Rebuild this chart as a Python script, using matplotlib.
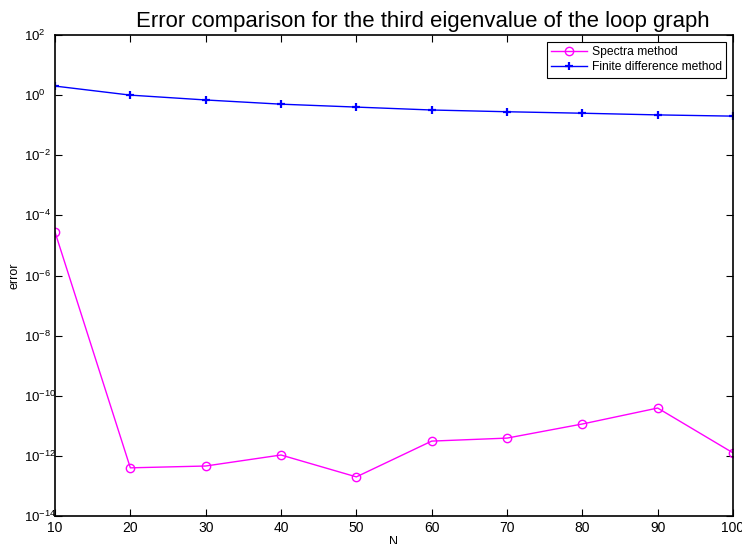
import matplotlib
matplotlib.use("Agg")
import matplotlib.pyplot as plt
from matplotlib.ticker import LogLocator, NullLocator, MultipleLocator

plt.rcParams['font.family'] = ['Liberation Sans', 'DejaVu Sans']
plt.rcParams['mathtext.fontset'] = 'custom'
plt.rcParams['mathtext.rm'] = 'Liberation Sans'
plt.rcParams['mathtext.it'] = 'Liberation Sans'

# data
n_values = [10, 20, 30, 40, 50, 60, 70, 80, 90, 100]
spectral_err = [2.8e-5, 4.0e-13, 4.6e-13, 1.07e-12, 2.0e-13,
                3.1e-12, 3.9e-12, 1.15e-11, 3.9e-11, 1.26e-12]
fd_err = [2.0, 1.0, 0.69, 0.50, 0.40, 0.32, 0.28, 0.25, 0.22, 0.20]

fig = plt.figure(figsize=(7.42, 5.44), dpi=100)
ax = fig.add_axes([55 / 742, 1 - 516 / 544, 678 / 742, 481 / 544])

ax.semilogy(n_values, spectral_err, color='#ff00ff', marker='o', markersize=6,
            markerfacecolor='none', linewidth=1, label='Spectra method')
ax.semilogy(n_values, fd_err, color='#0000ff', marker='+', markersize=6,
            markeredgewidth=1.6, linewidth=1, label='Finite difference method')

ax.set_xlim(10, 100)
ax.set_ylim(1e-14, 1e2)
ax.xaxis.set_major_locator(MultipleLocator(10))
ax.yaxis.set_major_locator(LogLocator(base=100.0, numticks=20))
ax.yaxis.set_minor_locator(NullLocator())
ax.tick_params(direction='in', top=True, right=True, length=5, width=0.8,
               labelsize=10)
# MATLAB style: y tick labels start at the same x
ax.tick_params(axis='y', pad=22, labelsize=9.5)
for lbl in ax.get_yticklabels():
    lbl.set_horizontalalignment('left')
for s in ax.spines.values():
    s.set_linewidth(1.2)

ax.set_title('Error comparison for the third eigenvalue of the loop graph',
             fontsize=15.9, pad=6, x=0.543)
ax.set_xlabel('N', fontsize=9, labelpad=1)
ax.set_ylabel('error', fontsize=9, labelpad=3)

leg = ax.legend(loc='upper right', fontsize=8.7, fancybox=False, framealpha=1,
                edgecolor='black', borderaxespad=0.55, handlelength=3,
                handletextpad=0.4, borderpad=0.35, labelspacing=0.3)
leg.get_frame().set_linewidth(0.8)

fig.savefig('out.png', dpi=100)
